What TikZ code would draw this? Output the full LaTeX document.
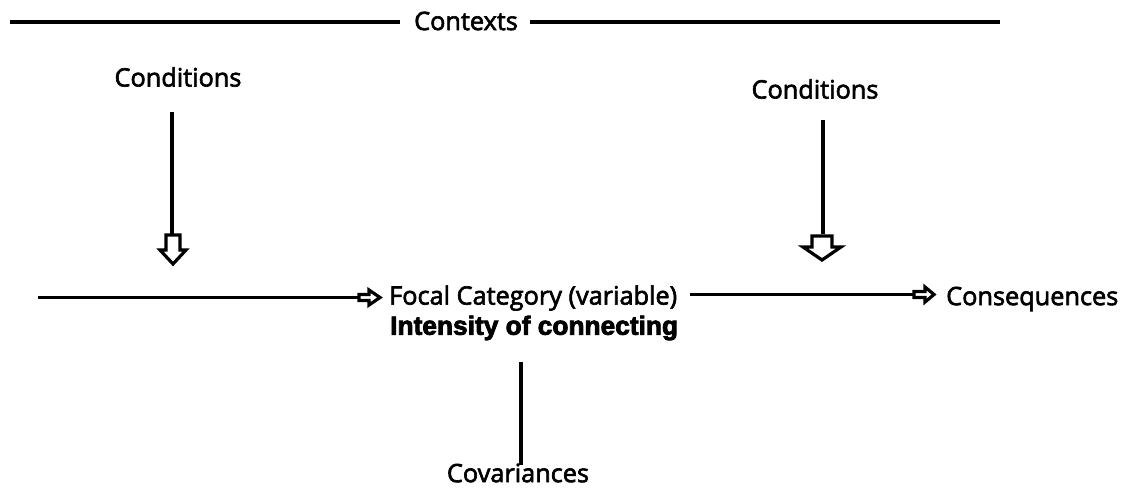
\documentclass[tikz,border=0pt]{standalone}
\usepackage{fontspec}
\setmainfont{Open Sans}[FakeBold=2.5]
\newfontfamily\boldsans{Liberation Sans Bold}[FakeBold=3]
\tikzset{
  lbl/.style={inner sep=0pt, font=\fontsize{25.3}{30}\selectfont, text=black},
  boldlbl/.style={inner sep=0pt, font=\boldsans\fontsize{26.3}{30}\selectfont, text=black},
  conn/.style={line width=3.2pt, draw=black},
  hollow/.style={line width=3.2pt, draw=black, fill=white, line join=miter},
}
\begin{document}
\begin{tikzpicture}[x=1pt,y=-1pt]
\useasboundingbox (0,0) rectangle (1121,488);
% top contexts line
\node[lbl] (ctx) at (466,21) {Contexts};
\coordinate (ctxL) at (10,22);
\coordinate (ctxR) at (1000,22);
\draw[conn] (ctxL) -- ([xshift=-14pt]ctx.west |- ctxL);
\draw[conn] ([xshift=12pt]ctx.east |- ctxR) -- (ctxR);
% conditions left
\node[lbl] (condL) at (178,77) {Conditions};
\coordinate (condLa) at (172,112);
\coordinate (condLb) at (172,234);
\draw[conn] (condLa) -- (condLb);
\draw[hollow] (166,235) -- (180,235) -- (180,250) -- (186,250) -- (173,264) -- (160,250) -- (166,250) -- cycle;
% conditions right
\node[lbl] (condR) at (815,89) {Conditions};
\coordinate (condRa) at (823,120);
\coordinate (condRb) at (823,234);
\draw[conn] (condRa) -- (condRb);
\draw[hollow] (812,236) -- (832,236) -- (832,247) -- (841,247) -- (822,260) -- (803,247) -- (812,247) -- cycle;
% focal
\node[lbl, anchor=west] (focal) at (389,298) {Focal Category (variable)};
\node[boldlbl, anchor=west] (inten) at (390,328) {Intensity of connecting};
\coordinate (inL) at (38,297.5);
\coordinate (inR) at (359,297.5);
\draw[conn] (inL) -- (inR);
\draw[hollow] (359,294.5) -- (369,294.5) -- (369,290) -- (380,297.5) -- (369,305) -- (369,300.5) -- (359,300.5) -- cycle;
% consequences
\node[lbl, anchor=west] (cons) at (946,299) {Consequences};
\coordinate (outL) at (690,294.5);
\coordinate (outR) at (914,294.5);
\draw[conn] (outL) -- (outR);
\draw[hollow] (914,291.5) -- (925,291.5) -- (925,287) -- (934,294.5) -- (925,302) -- (925,297.5) -- (914,297.5) -- cycle;
% covariances
\node[lbl] (cov) at (518,473) {Covariances};
\coordinate (covT) at (521,362);
\coordinate (covB) at (521,465);
\draw[conn] (covT) -- (covB);
\end{tikzpicture}
\end{document}
